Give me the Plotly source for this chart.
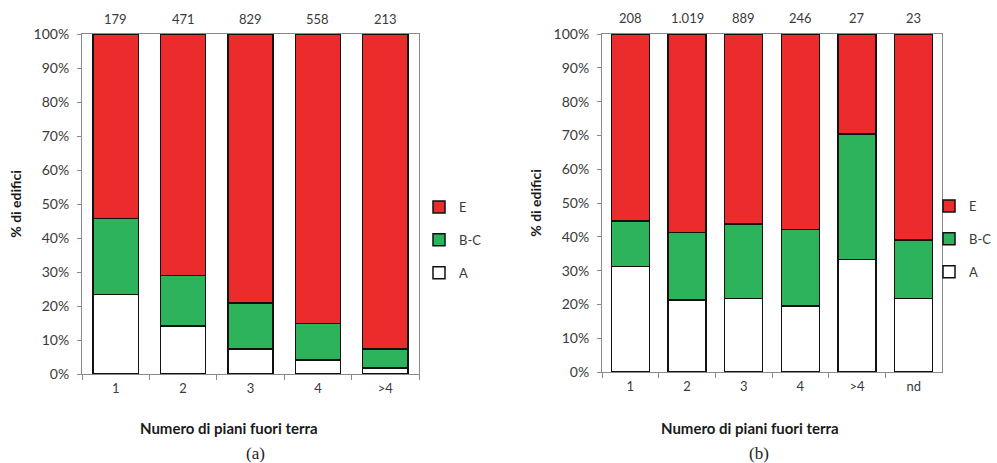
import plotly.graph_objects as go

# ---- data ----
cats_a = ["1", "2", "3", "4", ">4"]
counts_a = ["179", "471", "829", "558", "213"]
A_a = [23.4, 14.1, 7.3, 4.1, 1.7]
BC_a = [22.3, 14.8, 13.6, 10.8, 5.6]
E_a = [54.3, 71.1, 79.1, 85.1, 92.7]

cats_b = ["1", "2", "3", "4", ">4", "nd"]
counts_b = ["208", "1.019", "889", "246", "27", "23"]
A_b = [31.2, 21.3, 21.8, 19.5, 33.3, 21.7]
BC_b = [13.5, 19.9, 22.0, 22.7, 37.1, 17.4]
E_b = [55.3, 58.8, 56.2, 57.8, 29.6, 60.9]

series_names = ["A", "B-C", "E"]
colors = ["#FFFFFF", "#2DB35B", "#EC2C2C"]
ranks = [3, 2, 1]

FONT = "Lato"
TXT = "#3a3a3a"
AXC = "#8a8a8a"

fig = go.Figure()

def add_panel(cats, vals, xa, ya, legend):
    for name, col, rk, v in zip(series_names, colors, ranks, vals):
        fig.add_trace(go.Bar(
            x=cats, y=v, name=name, xaxis=xa, yaxis=ya,
            marker=dict(color=col, line=dict(color="#111111", width=1.5)),
            legend=legend, legendgroup=legend + name, legendrank=rk,
            hoverinfo="x+y+name",
        ))

add_panel(cats_a, [A_a, BC_a, E_a], "x", "y", "legend")
add_panel(cats_b, [A_b, BC_b, E_b], "x2", "y2", "legend2")

annotations = []
for i, n in enumerate(counts_a):
    annotations.append(dict(x=i, y=1, xref="x", yref="y domain", text=n,
                            showarrow=False, xanchor="center", yanchor="bottom", yshift=5,
                            font=dict(family=FONT, size=13, color=TXT)))
for i, n in enumerate(counts_b):
    annotations.append(dict(x=i, y=1, xref="x2", yref="y2 domain", text=n,
                            showarrow=False, xanchor="center", yanchor="bottom", yshift=6,
                            font=dict(family=FONT, size=13, color=TXT)))

W, H = 997, 463
def px(x):
    return x / W
def py(y):
    return 1 - y / H

annotations += [
    dict(x=px(229), y=py(428), xref="paper", yref="paper", xanchor="center", yanchor="middle",
         text="<b>Numero di piani fuori terra</b>", showarrow=False,
         font=dict(family=FONT, size=15, color="#1a1a1a")),
    dict(x=px(750), y=py(428), xref="paper", yref="paper", xanchor="center", yanchor="middle",
         text="<b>Numero di piani fuori terra</b>", showarrow=False,
         font=dict(family=FONT, size=15, color="#1a1a1a")),
    dict(x=px(255), y=py(453), xref="paper", yref="paper", xanchor="center", yanchor="middle",
         text="(a)", showarrow=False,
         font=dict(family="Liberation Serif", size=17, color="#222")),
    dict(x=px(759), y=py(453), xref="paper", yref="paper", xanchor="center", yanchor="middle",
         text="(b)", showarrow=False,
         font=dict(family="Liberation Serif", size=17, color="#222")),
]

yaxis_common = dict(range=[0, 100], dtick=10, ticksuffix="%", ticks="outside",
                    ticklen=4, tickcolor=AXC, showline=True, linecolor=AXC,
                    linewidth=1, mirror=True, showgrid=False, zeroline=False,
                    ticklabelstandoff=5,
                    tickfont=dict(family=FONT, size=14, color=TXT),
                    title=dict(text="<b>% di edifici</b>", standoff=8,
                               font=dict(family=FONT, size=14, color="#1a1a1a")))
xaxis_common = dict(tickson="boundaries", ticks="outside", ticklen=5,
                    tickcolor=AXC, showline=True, linecolor=AXC, linewidth=1,
                    mirror=True, showgrid=False, ticklabelstandoff=2,
                    tickfont=dict(family=FONT, size=13, color=TXT))

legend_common = dict(traceorder="grouped", tracegroupgap=13,
                     font=dict(family=FONT, size=13, color=TXT),
                     bgcolor="rgba(0,0,0,0)", xanchor="left", yanchor="middle",
                     itemwidth=30)

fig.update_layout(
    width=W, height=H,
    margin=dict(l=0, r=0, t=0, b=0, autoexpand=False),
    paper_bgcolor="white", plot_bgcolor="white",
    barmode="stack", bargap=0.33,
    showlegend=True,
    xaxis=dict(domain=[px(82), px(419)], anchor="y", **xaxis_common),
    yaxis=dict(domain=[py(374), py(34)], anchor="x", **yaxis_common),
    xaxis2=dict(domain=[px(602), px(942)], anchor="y2", **xaxis_common),
    yaxis2=dict(domain=[py(372), py(34)], anchor="x2", **yaxis_common),
    legend=dict(x=px(419), y=py(240), **legend_common),
    legend2=dict(x=px(929), y=py(239), **legend_common),
    annotations=annotations,
    font=dict(family=FONT),
)

fig.write_html("out.html", config={"displayModeBar": False},
               post_script="document.body.style.margin='0';document.body.style.overflow='hidden';")
